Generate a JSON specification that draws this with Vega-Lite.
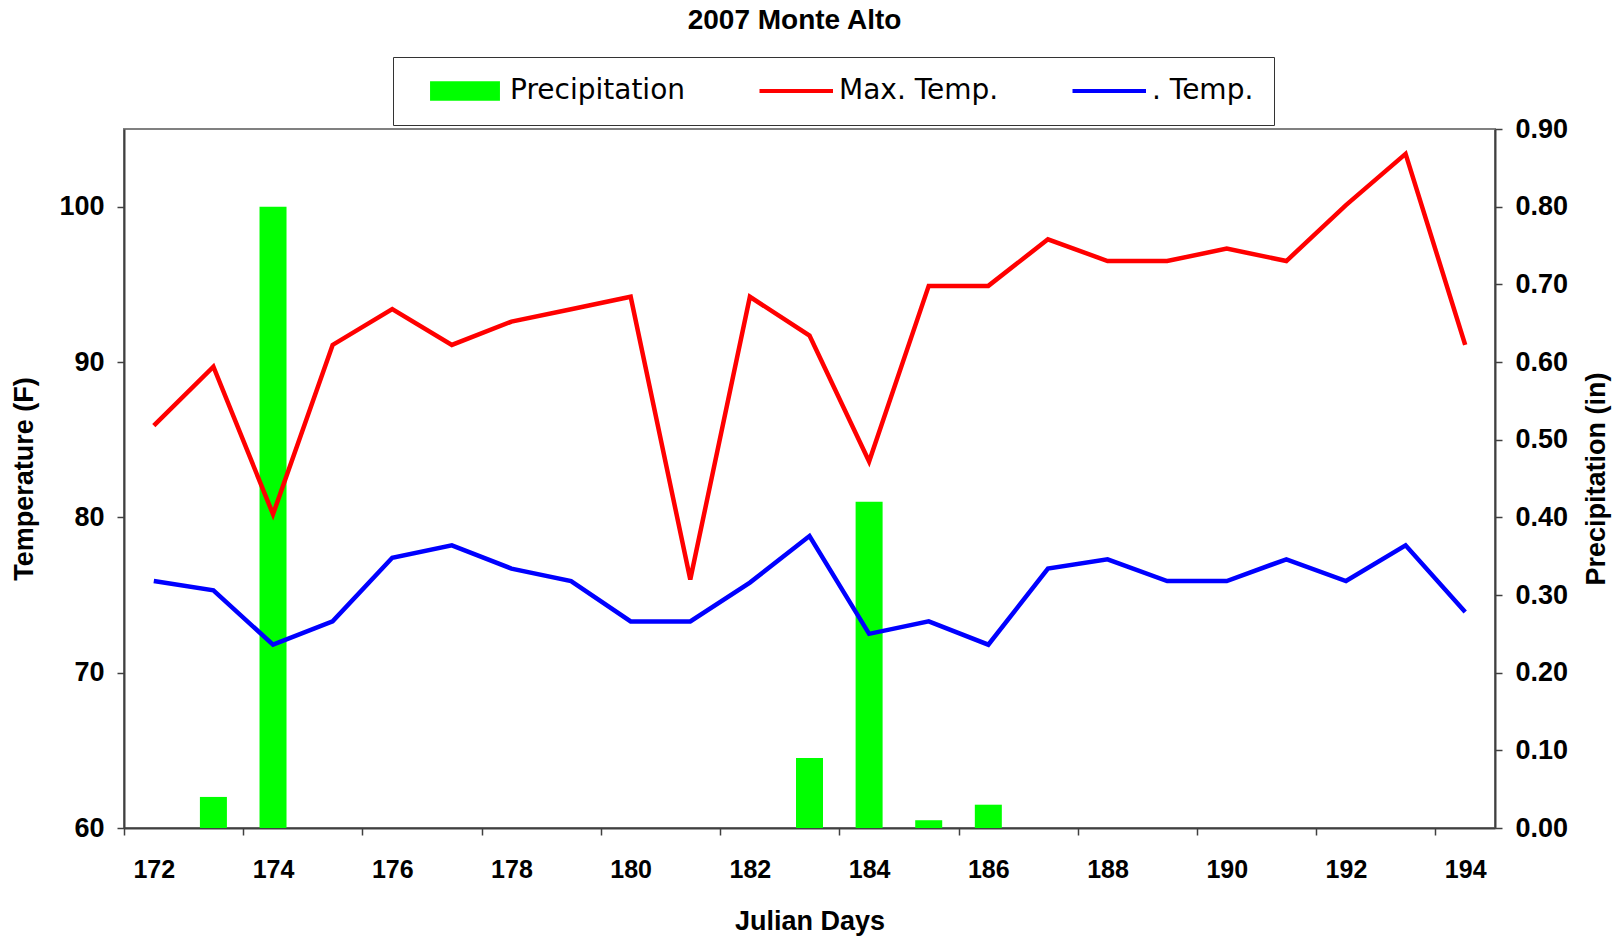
{
  "$schema": "https://vega.github.io/schema/vega-lite/v6.json",
  "autosize": {"type": "none"},
  "width": 1371,
  "height": 699,
  "padding": {"left": 124, "top": 129, "right": 122, "bottom": 108},
  "background": "white",
  "title": {
    "text": "2007 Monte Alto",
    "font": "Liberation Sans",
    "fontSize": 28,
    "fontWeight": "bold",
    "color": "black",
    "anchor": "middle",
    "frame": "group",
    "baseline": "alphabetic",
    "dx": -15,
    "offset": 0
  },
  "datasets": {
    "precip": [
      {"day": 173, "precip": 0.04},
      {"day": 174, "precip": 0.80},
      {"day": 183, "precip": 0.09},
      {"day": 184, "precip": 0.42},
      {"day": 185, "precip": 0.01},
      {"day": 186, "precip": 0.03}
    ],
    "temps": [
      {"day": 172, "series": "Max. Temp.", "temp": 85.9},
      {"day": 173, "series": "Max. Temp.", "temp": 89.7},
      {"day": 174, "series": "Max. Temp.", "temp": 80.2},
      {"day": 175, "series": "Max. Temp.", "temp": 91.1},
      {"day": 176, "series": "Max. Temp.", "temp": 93.4},
      {"day": 177, "series": "Max. Temp.", "temp": 91.1},
      {"day": 178, "series": "Max. Temp.", "temp": 92.6},
      {"day": 179, "series": "Max. Temp.", "temp": 93.4},
      {"day": 180, "series": "Max. Temp.", "temp": 94.2},
      {"day": 181, "series": "Max. Temp.", "temp": 76.0},
      {"day": 182, "series": "Max. Temp.", "temp": 94.2},
      {"day": 183, "series": "Max. Temp.", "temp": 91.7},
      {"day": 184, "series": "Max. Temp.", "temp": 83.6},
      {"day": 185, "series": "Max. Temp.", "temp": 94.9},
      {"day": 186, "series": "Max. Temp.", "temp": 94.9},
      {"day": 187, "series": "Max. Temp.", "temp": 97.9},
      {"day": 188, "series": "Max. Temp.", "temp": 96.5},
      {"day": 189, "series": "Max. Temp.", "temp": 96.5},
      {"day": 190, "series": "Max. Temp.", "temp": 97.3},
      {"day": 191, "series": "Max. Temp.", "temp": 96.5},
      {"day": 192, "series": "Max. Temp.", "temp": 100.1},
      {"day": 193, "series": "Max. Temp.", "temp": 103.4},
      {"day": 194, "series": "Max. Temp.", "temp": 91.1},
      {"day": 172, "series": ". Temp.", "temp": 75.9},
      {"day": 173, "series": ". Temp.", "temp": 75.3},
      {"day": 174, "series": ". Temp.", "temp": 71.8},
      {"day": 175, "series": ". Temp.", "temp": 73.3},
      {"day": 176, "series": ". Temp.", "temp": 77.4},
      {"day": 177, "series": ". Temp.", "temp": 78.2},
      {"day": 178, "series": ". Temp.", "temp": 76.7},
      {"day": 179, "series": ". Temp.", "temp": 75.9},
      {"day": 180, "series": ". Temp.", "temp": 73.3},
      {"day": 181, "series": ". Temp.", "temp": 73.3},
      {"day": 182, "series": ". Temp.", "temp": 75.8},
      {"day": 183, "series": ". Temp.", "temp": 78.8},
      {"day": 184, "series": ". Temp.", "temp": 72.5},
      {"day": 185, "series": ". Temp.", "temp": 73.3},
      {"day": 186, "series": ". Temp.", "temp": 71.8},
      {"day": 187, "series": ". Temp.", "temp": 76.7},
      {"day": 188, "series": ". Temp.", "temp": 77.3},
      {"day": 189, "series": ". Temp.", "temp": 75.9},
      {"day": 190, "series": ". Temp.", "temp": 75.9},
      {"day": 191, "series": ". Temp.", "temp": 77.3},
      {"day": 192, "series": ". Temp.", "temp": 75.9},
      {"day": 193, "series": ". Temp.", "temp": 78.2},
      {"day": 194, "series": ". Temp.", "temp": 73.9}
    ]
  },
  "layer": [
    {
      "data": {"name": "precip"},
      "mark": {"type": "bar", "size": 27},
      "encoding": {
        "x": {
          "field": "day", "type": "quantitative",
          "scale": {"domain": [171.5, 194.5], "nice": false, "zero": false, "padding": 0},
          "axis": {
            "title": "Julian Days",
            "values": [171.5, 172, 173.5, 174, 175.5, 176, 177.5, 178, 179.5, 180, 181.5, 182, 183.5, 184, 185.5, 186, 187.5, 188, 189.5, 190, 191.5, 192, 193.5, 194],
            "labelExpr": "datum.value % 2 == 0 ? format(datum.value, 'd') : ''",
            "labelOverlap": false,
            "tickOpacity": {"condition": {"test": "datum.value % 1 != 0", "value": 1}, "value": 0},
            "tickSize": 7,
            "labelPadding": 22,
            "labelFontSize": 25,
            "titlePadding": 26
          }
        },
        "y": {
          "field": "precip", "type": "quantitative",
          "scale": {"domain": [0, 0.9], "nice": false},
          "axis": {
            "orient": "right",
            "title": "Precipitation (in)",
            "titleAngle": -90,
            "titleBaseline": "top",
            "values": [0, 0.1, 0.2, 0.3, 0.4, 0.5, 0.6, 0.7, 0.8, 0.9],
            "format": ".2f",
            "tickSize": 7,
            "labelPadding": 13,
            "labelFontSize": 27,
            "titlePadding": 16
          }
        },
        "color": {"datum": "Precipitation"}
      }
    },
    {
      "data": {"name": "temps"},
      "mark": {"type": "line", "strokeWidth": 4.5},
      "encoding": {
        "x": {"field": "day", "type": "quantitative"},
        "y": {
          "field": "temp", "type": "quantitative",
          "scale": {"domain": [60, 105], "nice": false, "zero": false},
          "axis": {
            "orient": "left",
            "title": "Temperature (F)",
            "values": [60, 70, 80, 90, 100],
            "format": "d",
            "tickSize": 7,
            "labelPadding": 13,
            "labelFontSize": 27,
            "titlePadding": 20
          }
        },
        "color": {
          "field": "series", "type": "nominal",
          "scale": {"domain": ["Precipitation", "Max. Temp.", ". Temp."], "range": ["#00ff00", "#ff0000", "#0000ff"]},
          "legend": {
            "title": null,
            "orient": "none",
            "legendX": 269,
            "legendY": -72,
            "direction": "horizontal",
            "columns": 3,
            "columnPadding": 56,
            "symbolSize": 900,
            "symbolOffset": 38,
            "labelOffset": 31,
            "padding": 20,
            "strokeColor": "#333333",
            "fillColor": "white",
            "labelFont": "DejaVu Sans",
            "labelFontSize": 28,
            "labelColor": "black",
            "labelLimit": 500,
            "symbolStrokeWidth": 4,
            "encode": {
              "symbols": {
                "update": {
                  "shape": {"signal": "datum.value === 'Precipitation' ? 'M-2.33,-0.65H2.33V0.65H-2.33Z' : 'M-2.3,0H2.6'"},
                  "fill": {"signal": "datum.value === 'Precipitation' ? '#00ff00' : 'transparent'"},
                  "stroke": {"signal": "datum.value === 'Precipitation' ? 'transparent' : (datum.value === 'Max. Temp.' ? '#ff0000' : '#0000ff')"},
                  "strokeWidth": {"signal": "datum.value === 'Precipitation' ? 0 : 4"},
                  "opacity": {"value": 1}
                }
              }
            }
          }
        }
      }
    }
  ],
  "resolve": {"scale": {"y": "independent"}, "axis": {"y": "independent"}},
  "config": {
    "view": {"stroke": "#808080", "strokeWidth": 2},
    "axis": {
      "grid": false,
      "domainColor": "#404040",
      "domainWidth": 2,
      "tickColor": "#404040",
      "tickWidth": 1.5,
      "labelFont": "Liberation Sans",
      "labelFontWeight": "bold",
      "labelColor": "black",
      "titleFont": "Liberation Sans",
      "titleFontWeight": "bold",
      "titleFontSize": 27,
      "titleColor": "black"
    }
  }
}
